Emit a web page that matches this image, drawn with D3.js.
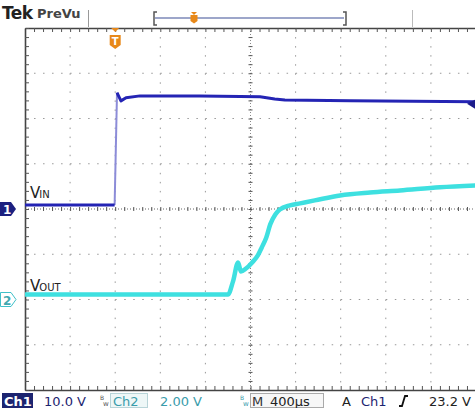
<!DOCTYPE html>
<html>
<head>
<meta charset="utf-8">
<script src="https://cdn.jsdelivr.net/npm/d3@7/dist/d3.min.js"></script>
<style>
  body { margin: 0; background: #fff; }
  svg { display: block; font-family: "DejaVu Sans", sans-serif; }
</style>
</head>
<body>
<svg id="scope"></svg>
<script>
// time in µs relative to the trigger point, volts per channel
var vinTime  = [-800, -5, 16, 51, 96, 220, 750, 1285, 1415, 1505, 2085, 3200];
var vinVolts = [0.9, 0.9, 25.7, 23.9, 24.6, 25.0, 25.0, 24.8, 24.3, 24.1, 23.9, 23.7];

var voutTime  = [-800, 1000, 1045, 1090, 1115, 1160, 1215, 1265, 1300, 1340, 1375, 1420, 1460, 1550, 1640, 1770, 1995, 2260, 2525, 2880, 3200];
var voutVolts = [0.22, 0.22, 0.80, 1.64, 1.24, 1.37, 1.64, 1.95, 2.30, 2.74, 3.32, 3.76, 3.98, 4.16, 4.25, 4.38, 4.60, 4.73, 4.82, 4.96, 5.04];

var traceNames = ["IN", "OUT"];
var ch1Scale = "10.0 V", ch2Scale = "2.00 V", timeBase = "400µs", trigLevel = "23.2 V";

var width = 475, height = 408;
var gLeft = 25, gRight = 476, gTop = 28, gBottom = 390;

var svg = d3.select("#scope")
  .attr("width", width)
  .attr("height", height);

var x = d3.scaleLinear().domain([-800, 3200]).range([gLeft, gRight]);
var y1 = d3.scaleLinear().domain([-40, 40]).range([gBottom, gTop]);   // 10 V/div
var y2 = d3.scaleLinear().domain([-4, 12]).range([gBottom, gTop]);    // 2 V/div

var vinData = vinTime.map((t, i) => ({t: t, v: vinVolts[i]}));
var voutData = voutTime.map((t, i) => ({t: t, v: voutVolts[i]}));

// graticule
var grid = svg.append("g");
var divX = d3.range(-400, 3200, 400);
var divY = d3.range(-30, 40, 10);
var minorX = 400 / 5;
var minorYpx = (gBottom - gTop) / 40, minorXpx = (gRight - gLeft) / 50;

grid.selectAll("line.vx")
  .data(divX.filter(d => d !== 1200))
  .join("line")
    .attr("class", "vx")
    .attr("x1", d => x(d)).attr("x2", d => x(d))
    .attr("y1", gTop).attr("y2", gBottom)
    .attr("stroke", "#999")
    .attr("stroke-width", 1)
    .attr("stroke-dasharray", "1.5," + (minorYpx - 1.5));

grid.selectAll("line.hy")
  .data(divY.filter(d => d !== 0))
  .join("line")
    .attr("class", "hy")
    .attr("x1", gLeft).attr("x2", gRight)
    .attr("y1", d => y1(d)).attr("y2", d => y1(d))
    .attr("stroke", "#999")
    .attr("stroke-width", 1)
    .attr("stroke-dasharray", "1.5," + (minorXpx - 1.5));

// center crosshair with minor ticks
grid.append("line")
  .attr("x1", x(1200)).attr("x2", x(1200))
  .attr("y1", gTop).attr("y2", gBottom)
  .attr("stroke", "#888").attr("stroke-dasharray", "1,2");
grid.append("line")
  .attr("x1", gLeft).attr("x2", gRight)
  .attr("y1", y1(0)).attr("y2", y1(0))
  .attr("stroke", "#666").attr("stroke-dasharray", "1,2");

var cx = grid.append("g").attr("transform", "translate(0," + (y1(0) - 2) + ")")
  .call(d3.axisBottom(x).tickValues(d3.range(-800, 3201, minorX)).tickSize(4).tickFormat(""));
var cy = grid.append("g").attr("transform", "translate(" + (x(1200) - 2) + ",0)")
  .call(d3.axisRight(y1).tickValues(d3.range(-40, 41, 2)).tickSize(4).tickFormat(""));
[cx, cy].forEach(g => {
  g.select(".domain").remove();
  g.selectAll("line").attr("stroke", "#555");
});

// frame rulers
var topAxis = svg.append("g").attr("transform", "translate(0," + gTop + ")")
  .call(d3.axisBottom(x).tickValues(d3.range(-800, 3201, minorX)).tickSize(4).tickSizeOuter(0).tickFormat(""));
var botAxis = svg.append("g").attr("transform", "translate(0," + gBottom + ")")
  .call(d3.axisTop(x).tickValues(d3.range(-800, 3201, minorX)).tickSize(4).tickSizeOuter(0).tickFormat(""));
var leftAxis = svg.append("g").attr("transform", "translate(" + gLeft + ",0)")
  .call(d3.axisRight(y1).tickValues(d3.range(-40, 41, 2)).tickSize(4).tickSizeOuter(0).tickFormat(""));
[topAxis, botAxis, leftAxis].forEach(g => {
  g.select(".domain").attr("stroke", "#444").attr("stroke-width", 1.6);
  g.selectAll(".tick line").attr("stroke", "#555");
});

// traces
var lineVin = d3.line().x(d => x(d.t)).y(d => y1(d.v));
var lineVout = d3.line().x(d => x(d.t)).y(d => y2(d.v)).curve(d3.curveMonotoneX);

svg.append("path")
  .datum(voutData)
  .attr("d", lineVout)
  .attr("fill", "none")
  .attr("stroke", "#3ee0e0")
  .attr("stroke-width", 4.5)
  .attr("stroke-linejoin", "round");

// fast edge of ch1 is drawn faint, like the scope does
svg.append("path")
  .datum(vinData.slice(1, 3))
  .attr("d", lineVin)
  .attr("fill", "none")
  .attr("stroke", "#8c8cd8")
  .attr("stroke-width", 2);

svg.append("path")
  .datum(vinData.slice(0, 2))
  .attr("d", lineVin)
  .attr("fill", "none")
  .attr("stroke", "#2424b4")
  .attr("stroke-width", 3);

svg.append("path")
  .datum(vinData.slice(2))
  .attr("d", lineVin)
  .attr("fill", "none")
  .attr("stroke", "#2424b4")
  .attr("stroke-width", 3)
  .attr("stroke-linejoin", "round");

// end-of-trace marker for ch1
var endV = vinVolts[vinVolts.length - 1];
svg.append("path")
  .attr("d", "M" + (x(3200) - 9) + "," + (y1(endV) + 2) + "l8,-4 l0,9 z")
  .attr("fill", "#1c1c8a");

// trace labels
function vLabel(yPos, sub) {
  var t = svg.append("text").attr("x", 30).attr("y", yPos).attr("fill", "#222");
  t.append("tspan").attr("font-size", 15).text("V");
  t.append("tspan").attr("font-size", 10).attr("dx", -1).text(sub);
}
vLabel(y1(0) - 11, traceNames[0]);
vLabel(y2(0) - 9, traceNames[1]);

// channel ground markers
svg.append("path")
  .attr("d", "M0," + (y1(0) - 7) + "h11l5,7l-5,7h-11z")
  .attr("fill", "#1c2080");
svg.append("text").attr("x", 3).attr("y", y1(0) + 5).attr("fill", "#fff")
  .attr("font-size", 12).attr("font-weight", "bold").text("1");
svg.append("path")
  .attr("d", "M0.5," + (y2(0) - 7) + "h10.5l5,7l-5,7h-10.5z")
  .attr("fill", "#fff").attr("stroke", "#40c0c8");
svg.append("text").attr("x", 3).attr("y", y2(0) + 5).attr("fill", "#40a8b0")
  .attr("font-size", 12).attr("font-weight", "bold").text("2");

// trigger position marker
var tx = x(0);
svg.append("path")
  .attr("d", "M" + (tx - 4) + "," + gTop + "h8l-4,4z")
  .attr("fill", "#e8891a");
svg.append("path")
  .attr("d", "M" + (tx - 5.5) + "," + (gTop + 7) + "h11v10l-5.5,4l-5.5,-4z")
  .attr("fill", "#e8891a");
svg.append("text").attr("x", tx).attr("y", gTop + 17).attr("text-anchor", "middle")
  .attr("fill", "#fff").attr("font-size", 10).attr("font-weight", "bold").text("T");

// header
svg.append("text").attr("x", 2).attr("y", 19).attr("font-size", 17).attr("font-weight", "bold")
  .attr("fill", "#222").attr("letter-spacing", -0.5).text("Tek");
svg.append("text").attr("x", 37).attr("y", 18).attr("font-size", 13).attr("font-weight", "bold")
  .attr("fill", "#444").text("PreVu");
svg.append("line").attr("x1", 88.5).attr("x2", 88.5).attr("y1", 10).attr("y2", 27).attr("stroke", "#999");
svg.append("line").attr("x1", 412.5).attr("x2", 412.5).attr("y1", 10).attr("y2", 27).attr("stroke", "#bbb");

// record-window bracket
svg.append("line").attr("x1", 155).attr("x2", 344).attr("y1", 18).attr("y2", 18)
  .attr("stroke", "#7d88b8").attr("stroke-width", 1.5);
svg.append("path").attr("d", "M157,12h-3v13h3").attr("fill", "none").attr("stroke", "#555").attr("stroke-width", 1.5);
svg.append("path").attr("d", "M343,12h3v13h-3").attr("fill", "none").attr("stroke", "#555").attr("stroke-width", 1.5);
svg.append("path").attr("d", "M191,12h6l-3,3z").attr("fill", "#e8891a");
svg.append("path").attr("d", "M190.5,15h7v6l-3.5,2.5l-3.5,-2.5z").attr("fill", "#e8891a");

// status bar
var sb = svg.append("g").attr("font-size", 13);
sb.append("rect").attr("x", 2).attr("y", 393).attr("width", 31).attr("height", 15).attr("fill", "#1c2470");
sb.append("text").attr("x", 4).attr("y", 406).attr("fill", "#fff").attr("font-weight", "bold").text("Ch1");
sb.append("text").attr("x", 44).attr("y", 406).attr("fill", "#1c2470").text(ch1Scale);

function bwMark(xp, col) {
  sb.append("text").attr("x", xp).attr("y", 400).attr("font-size", 6).attr("fill", col).text("B");
  sb.append("text").attr("x", xp + 3).attr("y", 406).attr("font-size", 7).attr("fill", col).text("w");
}
bwMark(100, "#555");
sb.append("rect").attr("x", 110.5).attr("y", 393.5).attr("width", 37).attr("height", 14)
  .attr("fill", "#eef7f7").attr("stroke", "#b8d4d8");
sb.append("text").attr("x", 113).attr("y", 406).attr("fill", "#3a9cab").text("Ch2");
sb.append("text").attr("x", 160).attr("y", 406).attr("fill", "#3a9cab").text(ch2Scale);

bwMark(240, "#3a9cab");
sb.append("rect").attr("x", 250.5).attr("y", 393.5).attr("width", 73).attr("height", 14)
  .attr("fill", "#f7f7f7").attr("stroke", "#aaa");
sb.append("text").attr("x", 252).attr("y", 406).attr("fill", "#333").text("M");
sb.append("text").attr("x", 270).attr("y", 406).attr("fill", "#222").text(timeBase);
sb.append("text").attr("x", 342).attr("y", 406).attr("fill", "#222").text("A");
sb.append("text").attr("x", 361).attr("y", 406).attr("fill", "#1c2470").text("Ch1");
sb.append("path").attr("d", "M399,406 h3 l3,-10 h3").attr("fill", "none").attr("stroke", "#111").attr("stroke-width", 1.8);
sb.append("text").attr("x", 429).attr("y", 406).attr("fill", "#222").text(trigLevel);
</script>
</body>
</html>
